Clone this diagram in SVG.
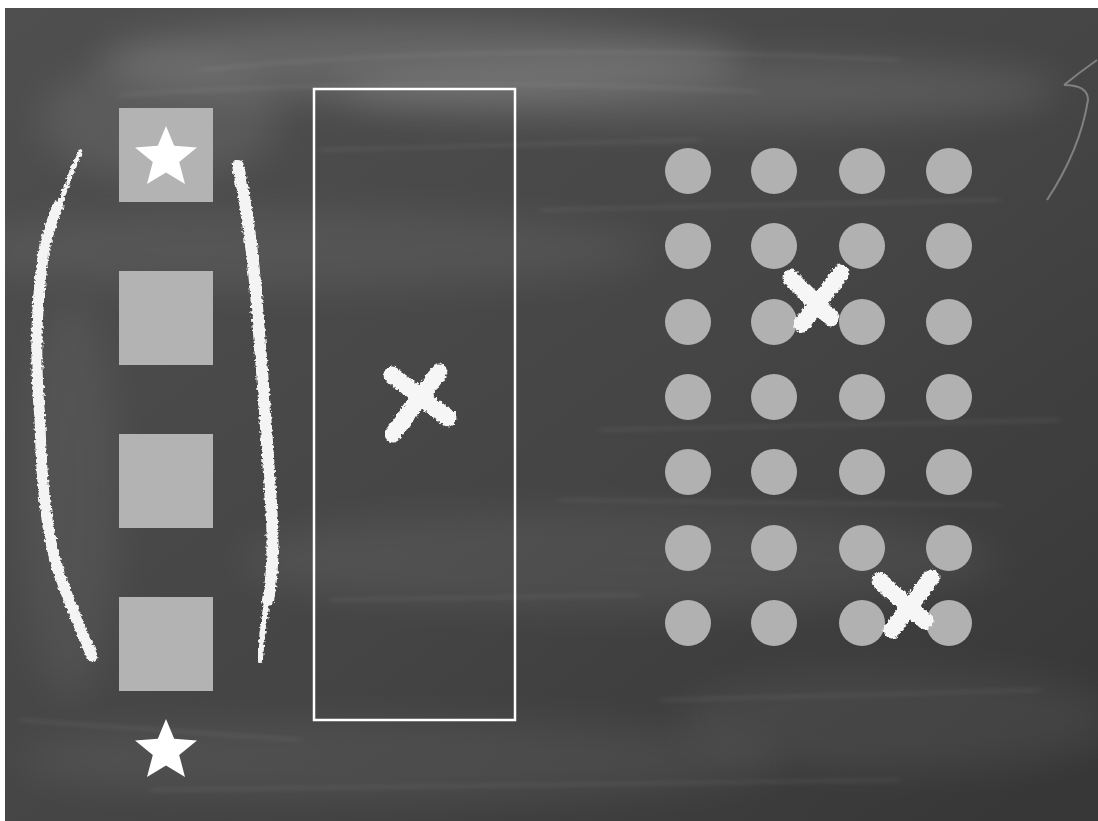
<svg xmlns="http://www.w3.org/2000/svg" width="1098" height="821" viewBox="0 0 1098 821">
<defs>
<style>
.sq{fill:#b3b3b3}
.dot{fill:#b1b1b1}
.star{fill:#ffffff}
.chalk{fill:none;stroke:#f4f4f4;stroke-linecap:round;filter:url(#rough)}
.xm{fill:none;stroke:#f6f6f6;stroke-width:17;stroke-linecap:round;filter:url(#rough)}
.smudge{fill:#ffffff;filter:url(#blur)}
</style>
<linearGradient id="bg" x1="0" y1="0" x2="1" y2="1">
<stop offset="0" stop-color="#4f4f4f"/>
<stop offset="0.5" stop-color="#464646"/>
<stop offset="1" stop-color="#363636"/>
</linearGradient>
<filter id="blur" x="-50%" y="-50%" width="200%" height="200%">
<feGaussianBlur stdDeviation="18"/>
</filter>
<filter id="blur2" x="-20%" y="-50%" width="140%" height="200%">
<feGaussianBlur stdDeviation="4 2"/>
</filter>
<filter id="rough" x="-20%" y="-20%" width="140%" height="140%">
<feTurbulence type="fractalNoise" baseFrequency="0.35" numOctaves="2" seed="3" result="n"/>
<feDisplacementMap in="SourceGraphic" in2="n" scale="5" xChannelSelector="R" yChannelSelector="G"/>
</filter>
<polygon id="starShape" points="0,-31 8.2,-11.3 31,-9.6 13.2,5 19,27 0,15.5 -19,27 -13.2,5 -31,-9.6 -8.2,-11.3"/>
</defs>

<g id="board">
<rect x="0" y="0" width="1098" height="821" fill="#ffffff"/>
<rect x="5" y="8" width="1093" height="813" fill="url(#bg)"/>
<ellipse class="smudge" cx="420" cy="60" rx="320" ry="40" opacity="0.14"/>
<ellipse class="smudge" cx="700" cy="90" rx="360" ry="35" opacity="0.10"/>
<ellipse class="smudge" cx="160" cy="120" rx="120" ry="60" opacity="0.08"/>
<ellipse class="smudge" cx="300" cy="250" rx="350" ry="40" opacity="0.06"/>
<ellipse class="smudge" cx="620" cy="560" rx="380" ry="50" opacity="0.06"/>
<ellipse class="smudge" cx="900" cy="720" rx="220" ry="50" opacity="0.05"/>
<ellipse class="smudge" cx="400" cy="760" rx="380" ry="40" opacity="0.06"/>
<ellipse class="smudge" cx="70" cy="500" rx="50" ry="200" opacity="0.05"/>
<g stroke="#ffffff" stroke-width="3" fill="none" filter="url(#blur2)" opacity="0.07">
<path d="M200 70 Q500 40 900 60"/>
<path d="M120 95 Q420 75 760 92"/>
<path d="M320 150 L700 140"/>
<path d="M540 210 L1000 200"/>
<path d="M600 430 L1060 420"/>
<path d="M560 500 L1000 505"/>
<path d="M330 600 L640 595"/>
<path d="M660 700 L1040 690"/>
<path d="M150 790 L900 780"/>
<path d="M20 720 L300 740"/>
</g>
<path d="M1097 60 Q1080 72 1064 85 M1064 85 Q1088 85 1088 100 Q1080 150 1047 200" fill="none" stroke="#9a9a9a" stroke-width="2" opacity="0.7"/>
</g>

<g id="squares">
<rect class="sq" x="119" y="108" width="94" height="94"/>
<rect class="sq" x="119" y="271" width="94" height="94"/>
<rect class="sq" x="119" y="434" width="94" height="94"/>
<rect class="sq" x="119" y="597" width="94" height="94"/>
</g>

<g id="stars">
<use href="#starShape" class="star" x="166" y="157"/>
<use href="#starShape" class="star" x="166" y="750"/>
</g>

<g id="brackets">
<path class="chalk" d="M80 152 Q68 180 58 210" stroke-width="5" stroke-dasharray="3 4"/>
<path class="chalk" d="M58 206 Q48 230 44 250 Q32 330 40 420 Q42 520 58 570 Q72 610 92 656" stroke-width="11"/>
<path class="chalk" d="M238 166 Q252 230 258 320 Q266 420 270 490 Q276 560 268 600" stroke-width="12"/>
<path class="chalk" d="M268 596 Q262 630 260 660" stroke-width="6" stroke-dasharray="4 3"/>
</g>

<g id="box">
<rect x="314" y="89" width="201" height="631" fill="none" stroke="#ffffff" stroke-width="2.5"/>
</g>

<g id="dots">
<circle class="dot" cx="688" cy="171" r="23"/><circle class="dot" cx="774" cy="171" r="23"/><circle class="dot" cx="862" cy="171" r="23"/><circle class="dot" cx="949" cy="171" r="23"/>
<circle class="dot" cx="688" cy="246" r="23"/><circle class="dot" cx="774" cy="246" r="23"/><circle class="dot" cx="862" cy="246" r="23"/><circle class="dot" cx="949" cy="246" r="23"/>
<circle class="dot" cx="688" cy="322" r="23"/><circle class="dot" cx="774" cy="322" r="23"/><circle class="dot" cx="862" cy="322" r="23"/><circle class="dot" cx="949" cy="322" r="23"/>
<circle class="dot" cx="688" cy="397" r="23"/><circle class="dot" cx="774" cy="397" r="23"/><circle class="dot" cx="862" cy="397" r="23"/><circle class="dot" cx="949" cy="397" r="23"/>
<circle class="dot" cx="688" cy="472" r="23"/><circle class="dot" cx="774" cy="472" r="23"/><circle class="dot" cx="862" cy="472" r="23"/><circle class="dot" cx="949" cy="472" r="23"/>
<circle class="dot" cx="688" cy="548" r="23"/><circle class="dot" cx="774" cy="548" r="23"/><circle class="dot" cx="862" cy="548" r="23"/><circle class="dot" cx="949" cy="548" r="23"/>
<circle class="dot" cx="688" cy="623" r="23"/><circle class="dot" cx="774" cy="623" r="23"/><circle class="dot" cx="862" cy="623" r="23"/><circle class="dot" cx="949" cy="623" r="23"/>
</g>

<g id="crosses">
<path class="xm" d="M392 375 L448 418 M439 372 L393 434"/>
<path class="xm" d="M791 278 L831 318 M841 273 L802 324"/>
<path class="xm" d="M880 581 L925 621 M931 578 L892 630"/>
</g>
</svg>
